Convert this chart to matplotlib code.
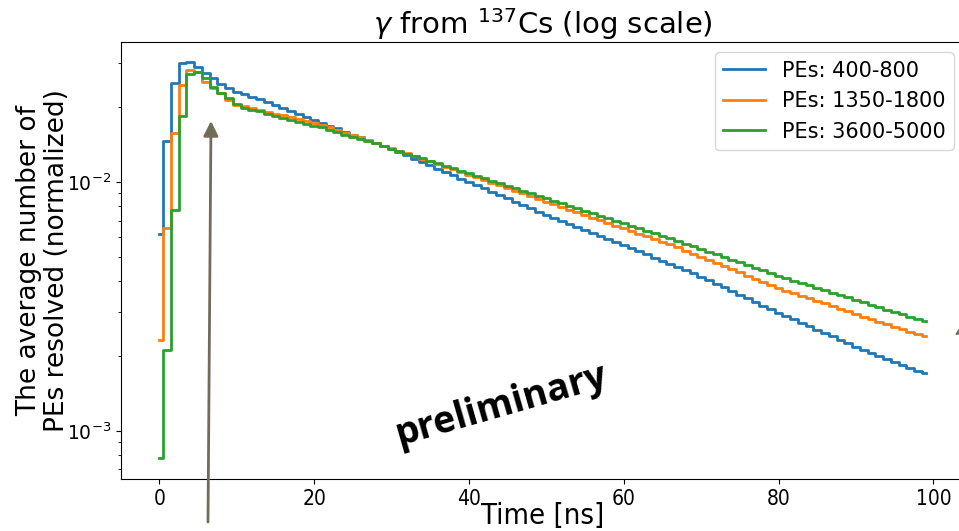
import matplotlib
matplotlib.use("Agg")
import matplotlib.pyplot as plt
import numpy as np

# arrival time bins [ns]
time_ns = np.arange(100)

pes_400_800 = [
    0.00618, 0.01465, 0.0249, 0.0300, 0.0304, 0.0289, 0.0273, 0.0261, 0.0247, 0.0238,
    0.0230, 0.0225, 0.0220, 0.0215, 0.0209, 0.0204, 0.0198, 0.0193, 0.0188, 0.0182,
    0.0177, 0.0173, 0.0168, 0.0164, 0.0159, 0.0155, 0.0151, 0.0147, 0.0143, 0.0139,
    0.0136, 0.0132, 0.0128, 0.0124, 0.0120, 0.0117, 0.0113, 0.0110, 0.0107, 0.0103,
    0.0100, 0.00973, 0.00943, 0.00914, 0.00887, 0.00860, 0.00833, 0.00808, 0.00784, 0.00760,
    0.00737, 0.00717, 0.00697, 0.00678, 0.00660, 0.00642, 0.00624, 0.00607, 0.00591, 0.00574,
    0.00559, 0.00542, 0.00526, 0.00512, 0.00497, 0.00482, 0.00468, 0.00454, 0.00441, 0.00429,
    0.00416, 0.00403, 0.00389, 0.00377, 0.00365, 0.00353, 0.00341, 0.00330, 0.00319, 0.00309,
    0.00299, 0.00290, 0.00281, 0.00272, 0.00263, 0.00255, 0.00247, 0.00240, 0.00232, 0.00225,
    0.00218, 0.00212, 0.00206, 0.00200, 0.00195, 0.00189, 0.00184, 0.00179, 0.00174, 0.00171,
]

pes_1350_1800 = [
    0.00232, 0.00652, 0.0158, 0.0245, 0.0282, 0.0276, 0.0253, 0.0238, 0.0227, 0.0213,
    0.0204, 0.0201, 0.0198, 0.0194, 0.0191, 0.0188, 0.0185, 0.0182, 0.0179, 0.0176,
    0.0173, 0.0169, 0.0166, 0.0162, 0.0158, 0.0154, 0.0151, 0.0147, 0.0144, 0.0140,
    0.0137, 0.01336, 0.01303, 0.01271, 0.01240, 0.01210, 0.01180, 0.01151, 0.01123, 0.01096,
    0.01069, 0.01043, 0.01017, 0.00992, 0.00968, 0.00944, 0.00921, 0.00899, 0.00877, 0.00855,
    0.00834, 0.00814, 0.00794, 0.00775, 0.00756, 0.00737, 0.00719, 0.00702, 0.00684, 0.00668,
    0.00651, 0.00635, 0.00620, 0.00605, 0.00590, 0.00576, 0.00562, 0.00546, 0.00530, 0.00515,
    0.00501, 0.00486, 0.00472, 0.00459, 0.00446, 0.00433, 0.00421, 0.00409, 0.00397, 0.00386,
    0.00375, 0.00366, 0.00357, 0.00349, 0.00341, 0.00333, 0.00325, 0.00317, 0.00310, 0.00302,
    0.00295, 0.00288, 0.00282, 0.00275, 0.00269, 0.00262, 0.00256, 0.00250, 0.00244, 0.00240,
]

pes_3600_5000 = [
    0.000777, 0.00211, 0.00772, 0.0184, 0.0272, 0.0277, 0.0261, 0.0241, 0.0227, 0.0217,
    0.0205, 0.0198, 0.0195, 0.0192, 0.0187, 0.0184, 0.0180, 0.0177, 0.0174, 0.0171,
    0.0168, 0.0166, 0.0162, 0.0159, 0.0155, 0.0152, 0.0149, 0.0146, 0.0143, 0.0140,
    0.0136, 0.01332, 0.01301, 0.01272, 0.01243, 0.01214, 0.01187, 0.01160, 0.01133, 0.01107,
    0.01082, 0.01057, 0.01033, 0.01010, 0.00987, 0.00964, 0.00942, 0.00921, 0.00900, 0.00879,
    0.00859, 0.00839, 0.00820, 0.00802, 0.00783, 0.00765, 0.00748, 0.00731, 0.00714, 0.00698,
    0.00682, 0.00666, 0.00651, 0.00636, 0.00622, 0.00607, 0.00594, 0.00579, 0.00565, 0.00552,
    0.00538, 0.00525, 0.00512, 0.00500, 0.00488, 0.00476, 0.00464, 0.00453, 0.00442, 0.00431,
    0.00420, 0.00411, 0.00402, 0.00393, 0.00384, 0.00376, 0.00367, 0.00359, 0.00351, 0.00344,
    0.00336, 0.00329, 0.00321, 0.00314, 0.00307, 0.00301, 0.00294, 0.00288, 0.00281, 0.00277,
]

series = [
    ("PEs: 400-800", pes_400_800, "tab:blue"),
    ("PEs: 1350-1800", pes_1350_1800, "tab:orange"),
    ("PEs: 3600-5000", pes_3600_5000, "tab:green"),
]

W, H = 959, 531
fig = plt.figure(figsize=(W / 100, H / 100), dpi=100)
# right spine sits just past the edge of the saved image
ax = fig.add_axes([121 / W, 1 - 479 / H, (964 - 121) / W, (479 - 42) / H])

for label, vals, color in series:
    ax.step(time_ns, vals, where="mid", color=color, lw=2, label=label)

ax.set_yscale("log")
ax.set_xlim(-4.95, 103.95)
ax.set_ylim(6.41e-4, 0.0365)
ax.tick_params(axis="x", labelsize=15)
ax.tick_params(axis="y", labelsize=13.5)
for lab in ax.get_xticklabels():
    lab.set_fontstretch("condensed")
ax.set_xlabel("Time [ns]", fontsize=21, labelpad=-5, fontstretch="condensed")
ax.set_ylabel("The average number of\nPEs resolved (normalized)", fontsize=19,
              linespacing=1.05)
ax.yaxis.set_label_coords(-0.061, 0.5)
ax.set_title(r"$\gamma$ from $^{137}$Cs (log scale)", fontsize=21, pad=5)
ax.legend(loc="upper right", fontsize=15)

# pointer to the rise region
ax.annotate("", xy=(211, H - 121), xycoords="figure pixels",
            xytext=(208, H - 522), textcoords="figure pixels",
            arrowprops=dict(arrowstyle="-|>", color="#746a58", lw=2,
                            mutation_scale=22, shrinkA=0, shrinkB=0),
            annotation_clip=False)
ax.annotate("", xy=(955, H - 335), xycoords="figure pixels",
            xytext=(975, H - 322), textcoords="figure pixels",
            arrowprops=dict(arrowstyle="-|>", color="#746a58", lw=1,
                            mutation_scale=8, shrinkA=0, shrinkB=0),
            annotation_clip=False)

fig.text(501, H - 406, "preliminary", transform=None, fontsize=27,
         fontweight="bold", family="Open Sans", rotation=16,
         ha="center", va="center")

fig.savefig("out.png", dpi=100)
